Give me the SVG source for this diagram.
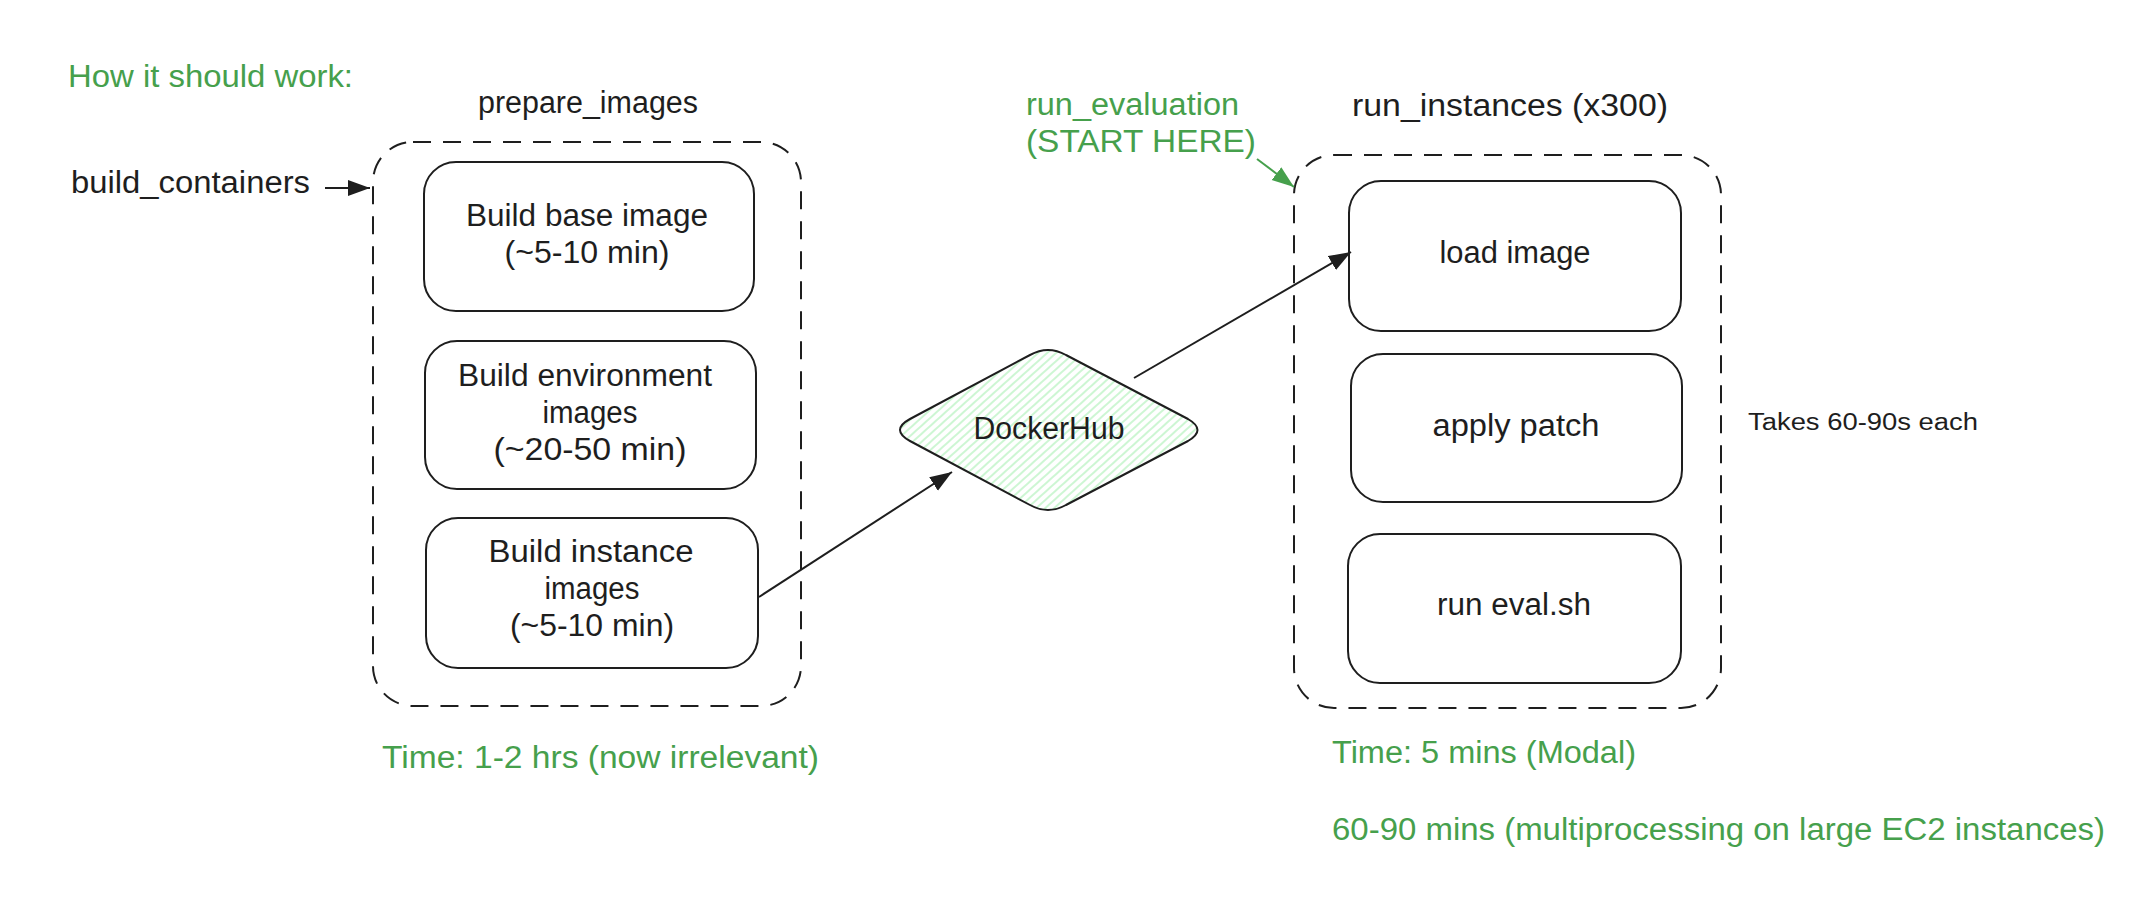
<svg xmlns="http://www.w3.org/2000/svg" width="2150" height="906" viewBox="0 0 2150 906">
<defs>
<style>
text{font-family:"Liberation Sans",Arial,sans-serif;font-size:31px;fill:#1e1e1e;}
.g{fill:#46a04c;}
.s{font-size:23px;}
.c{text-anchor:middle;}
.box{fill:none;stroke:#1e1e1e;stroke-width:2;}
.dash{fill:none;stroke:#1e1e1e;stroke-width:2;stroke-dasharray:18 12;}
.conn{fill:none;stroke:#1e1e1e;stroke-width:2;}
.gconn{fill:none;stroke:#46a04c;stroke-width:2;}
</style>
<marker id="ah" markerUnits="userSpaceOnUse" markerWidth="24" markerHeight="18" refX="22" refY="9" orient="auto">
<path d="M0,1 L22,9 L0,17 Z" fill="#1e1e1e"/>
</marker>
<marker id="ahg" markerUnits="userSpaceOnUse" markerWidth="24" markerHeight="18" refX="22" refY="9" orient="auto">
<path d="M0,1 L22,9 L0,17 Z" fill="#46a04c"/>
</marker>
<pattern id="hatch" patternUnits="userSpaceOnUse" width="6" height="6" patternTransform="rotate(-42)">
<line x1="0" y1="3" x2="6" y2="3" stroke="#b2f2bb" stroke-width="1.3"/>
</pattern>
</defs>
<rect width="2150" height="906" fill="#ffffff"/>

<g id="title">
<text class="g" x="68" y="87" textLength="285" lengthAdjust="spacingAndGlyphs">How it should work:</text>
</g>

<g id="build_containers">
<text x="71" y="193" textLength="239" lengthAdjust="spacingAndGlyphs">build_containers</text>
</g>

<g id="prepare_images">
<text x="478" y="113" textLength="220" lengthAdjust="spacingAndGlyphs">prepare_images</text>
<rect class="dash" x="373" y="142" width="428" height="564" rx="40"/>
</g>

<g id="build_base">
<rect class="box" x="424" y="162" width="330" height="149" rx="32"/>
<text class="c" x="587" y="226" textLength="242" lengthAdjust="spacingAndGlyphs">Build base image</text>
<text class="c" x="587" y="263" textLength="165" lengthAdjust="spacingAndGlyphs">(~5-10 min)</text>
</g>

<g id="build_env">
<rect class="box" x="425" y="341" width="331" height="148" rx="32"/>
<text class="c" x="585" y="386" textLength="254" lengthAdjust="spacingAndGlyphs">Build environment</text>
<text class="c" x="590" y="423" textLength="95" lengthAdjust="spacingAndGlyphs">images</text>
<text class="c" x="590" y="460" textLength="193" lengthAdjust="spacingAndGlyphs">(~20-50 min)</text>
</g>

<g id="build_instance">
<rect class="box" x="426" y="518" width="332" height="150" rx="32"/>
<text class="c" x="591" y="562" textLength="205" lengthAdjust="spacingAndGlyphs">Build instance</text>
<text class="c" x="592" y="599" textLength="95" lengthAdjust="spacingAndGlyphs">images</text>
<text class="c" x="592" y="636" textLength="164" lengthAdjust="spacingAndGlyphs">(~5-10 min)</text>
</g>

<g id="time_prepare">
<text class="g" x="382" y="768" textLength="437" lengthAdjust="spacingAndGlyphs">Time: 1-2 hrs (now irrelevant)</text>
</g>

<g id="dockerhub">
<path d="M910,419 L1030,355 Q1048,345 1066,355 L1188,419 Q1207,430 1188,441 L1066,505 Q1048,515 1030,505 L910,441 Q890,430 910,419 Z" fill="url(#hatch)" stroke="#1e1e1e" stroke-width="2"/>
<text class="c" x="1049" y="439" textLength="151" lengthAdjust="spacingAndGlyphs">DockerHub</text>
</g>

<g id="run_evaluation">
<text class="g" x="1026" y="115" textLength="213" lengthAdjust="spacingAndGlyphs">run_evaluation</text>
<text class="g" x="1026" y="152" textLength="230" lengthAdjust="spacingAndGlyphs">(START HERE)</text>
</g>

<g id="run_instances">
<text x="1352" y="116" textLength="316" lengthAdjust="spacingAndGlyphs">run_instances (x300)</text>
<rect class="dash" x="1294" y="155" width="427" height="553" rx="40"/>
</g>

<g id="load_image">
<rect class="box" x="1349" y="181" width="332" height="150" rx="32"/>
<text class="c" x="1515" y="263" textLength="151" lengthAdjust="spacingAndGlyphs">load image</text>
</g>

<g id="apply_patch">
<rect class="box" x="1351" y="354" width="331" height="148" rx="32"/>
<text class="c" x="1516" y="436" textLength="167" lengthAdjust="spacingAndGlyphs">apply patch</text>
</g>

<g id="run_eval">
<rect class="box" x="1348" y="534" width="333" height="149" rx="32"/>
<text class="c" x="1514" y="615" textLength="154" lengthAdjust="spacingAndGlyphs">run eval.sh</text>
</g>

<g id="takes">
<text class="s" x="1748" y="430" textLength="230" lengthAdjust="spacingAndGlyphs">Takes 60-90s each</text>
</g>

<g id="time_run">
<text class="g" x="1332" y="763" textLength="304" lengthAdjust="spacingAndGlyphs">Time: 5 mins (Modal)</text>
<text class="g" x="1332" y="840" textLength="773" lengthAdjust="spacingAndGlyphs">60-90 mins (multiprocessing on large EC2 instances)</text>
</g>

<g id="connectors">
<line class="conn" x1="325" y1="188" x2="370" y2="188" marker-end="url(#ah)"/>
<line class="conn" x1="759" y1="597" x2="952" y2="472" marker-end="url(#ah)"/>
<line class="conn" x1="1134" y1="378" x2="1351" y2="252" marker-end="url(#ah)"/>
<line class="gconn" x1="1257" y1="159" x2="1294" y2="187" marker-end="url(#ahg)"/>
</g>
</svg>
